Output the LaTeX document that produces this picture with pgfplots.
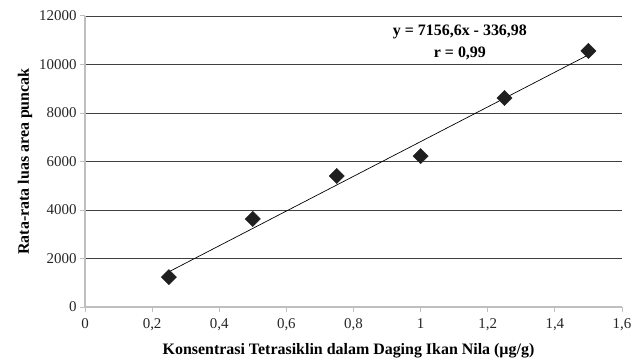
\documentclass[border=0pt]{standalone}
\usepackage{pgfplots}
\pgfplotsset{compat=1.18}
\usepackage{fontspec}
\setmainfont{Liberation Serif}
\begin{document}
\begin{tikzpicture}[x=1bp,y=1bp]
\begin{axis}[
  width=537bp, height=291bp, scale only axis,
  xmin=0, xmax=1.6, ymin=0, ymax=12000,
  xtick={0,0.2,...,1.6}, ytick={0,2000,...,12000},
  /pgf/number format/.cd, use comma, 1000 sep={}, assume math mode=true,
  /pgfplots/.cd,
  scaled ticks=false,
  xticklabel style={/pgf/number format/fixed, /pgf/number format/precision=1},
  ymajorgrids, grid style={black!75, line width=0.8pt},
  axis x line*=bottom, axis y line*=left,
  axis line style={black!25, line width=1.2pt},
  tick style={black!25, line width=1pt},
  tick align=outside, major tick length=5bp,
  ticklabel style={font=\fontsize{15}{17}\selectfont, text=black!85},
  xticklabel style={yshift=-3bp},
  xlabel={\textbf{Konsentrasi Tetrasiklin dalam Daging Ikan Nila (µg/g)}},
  ylabel={\textbf{Rata-rata luas area puncak}},
  label style={font=\fontsize{16}{18}\selectfont},
  xlabel style={yshift=-6bp, xshift=-5bp},
  ylabel style={yshift=0bp},
  clip=false,
]
\addplot[black, line width=0.7pt] coordinates {(0.25,1452.17) (1.5,10397.92)};
\addplot[only marks, mark=square*, mark size=5.4bp, mark options={rotate=45, fill=black!88, draw=black!88}] coordinates {
(0.25,1230) (0.5,3630) (0.75,5400) (1.0,6220) (1.25,8620) (1.5,10560)};
\node[font=\bfseries\fontsize{16}{22}\selectfont, align=center] at (axis cs:1.117,10900) {y = 7156,6x - 336,98\\r = 0,99};
\end{axis}
\pgfresetboundingbox
\path[use as bounding box] ([shift={(-85bp,-56bp)}]current axis.south west) rectangle ([shift={(12bp,16bp)}]current axis.north east);
\end{tikzpicture}
\end{document}
